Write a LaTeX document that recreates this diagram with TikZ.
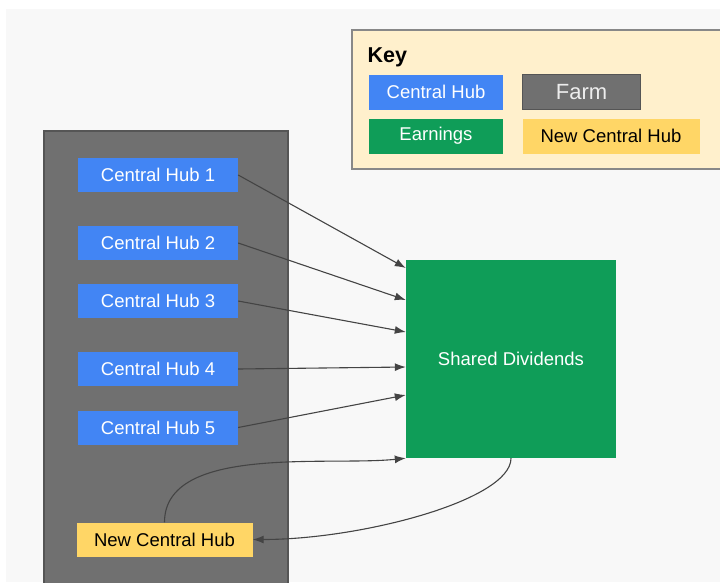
\documentclass[tikz,border=0pt]{standalone}
\usepackage{fontspec}
\setmainfont{Liberation Sans}
\usetikzlibrary{arrows.meta}

\definecolor{hubblue}{HTML}{4285F4}
\definecolor{earngreen}{HTML}{0F9D58}
\definecolor{newyellow}{HTML}{FFD666}
\definecolor{farmgray}{HTML}{707070}
\definecolor{farmedge}{HTML}{555555}
\definecolor{keybg}{HTML}{FFF0CC}
\definecolor{keyedge}{HTML}{888888}
\definecolor{pagebg}{HTML}{F8F8F8}
\definecolor{linegray}{HTML}{444444}

\tikzset{
    hub/.style = {fill = hubblue, text = white, minimum width = 160pt, minimum height = 34pt,
        font = \fontsize{18.5}{20}\selectfont},
    newhub/.style = {fill = newyellow, text = black, minimum width = 176pt, minimum height = 34pt,
        font = \fontsize{18.5}{20}\selectfont},
    earn/.style = {fill = earngreen, text = white, font = \fontsize{18.5}{20}\selectfont},
    farmkey/.style = {fill = farmgray, draw = farmedge, text = white!93!black,
        font = \fontsize{22}{24}\selectfont},
    conn/.style = {draw = linegray, line width = 1.1pt, -{Latex[length = 11pt, width = 8pt]}}
}

\begin{document}
    \begin{tikzpicture}[x = 1pt, y = -1pt]
        \useasboundingbox (0, 0) rectangle (720, 582);
        \fill [white] (0, 0) rectangle (720, 582);
        \fill [pagebg] (6, 9) rectangle (720, 582);
        % key
        \fill [keybg] (352, 30) rectangle (720, 169);
        \draw [keyedge, line width = 1.2pt] (720, 30) -- (352, 30) -- (352, 169) -- (720, 169);
        \node [anchor = base west, font = \fontsize{21.5}{23}\bfseries] (keytitle) at (364, 62) {Key};
        \node [hub, minimum width = 134pt, minimum height = 35pt] (khub) at (436, 92) {Central Hub};
        \node [farmkey, minimum width = 118pt, minimum height = 35pt] (kfarm) at (581.5, 92) {Farm};
        \node [earn, minimum width = 134pt, minimum height = 35pt] (kearn) at (436, 136) {Earnings};
        \node [newhub, minimum width = 177pt, minimum height = 35pt] (knew) at (611, 136) {New Central Hub};
        % farm
        \filldraw [fill = farmgray, draw = farmedge, line width = 1.2pt] (44, 585) -- (44, 131) -- (288, 131) -- (288, 585);
        \foreach \n/\y in {1/175, 2/243, 3/301, 4/369, 5/427.5}
            \node [hub] (hub\n) at (158, \y) {Central Hub \n};
        \node [newhub] (nch) at (164.5, 539.5) {New Central Hub};
        \node [earn, minimum width = 210pt, minimum height = 198pt] (div) at (511, 359) {Shared Dividends};
        % arrows
        \foreach \n/\s in {1/91, 2/59, 3/27, 4/-8, 5/-36}
            \draw [conn] (hub\n.east) -- ([yshift = \s pt]div.west);
        \draw [conn] (nch.north) to [out = 90, in = 186, looseness = 0.8] (div.south west);
        \draw [conn] (div.south) .. controls +(0, 42) and +(108, 0) .. (nch.east);
    \end{tikzpicture}
\end{document}
